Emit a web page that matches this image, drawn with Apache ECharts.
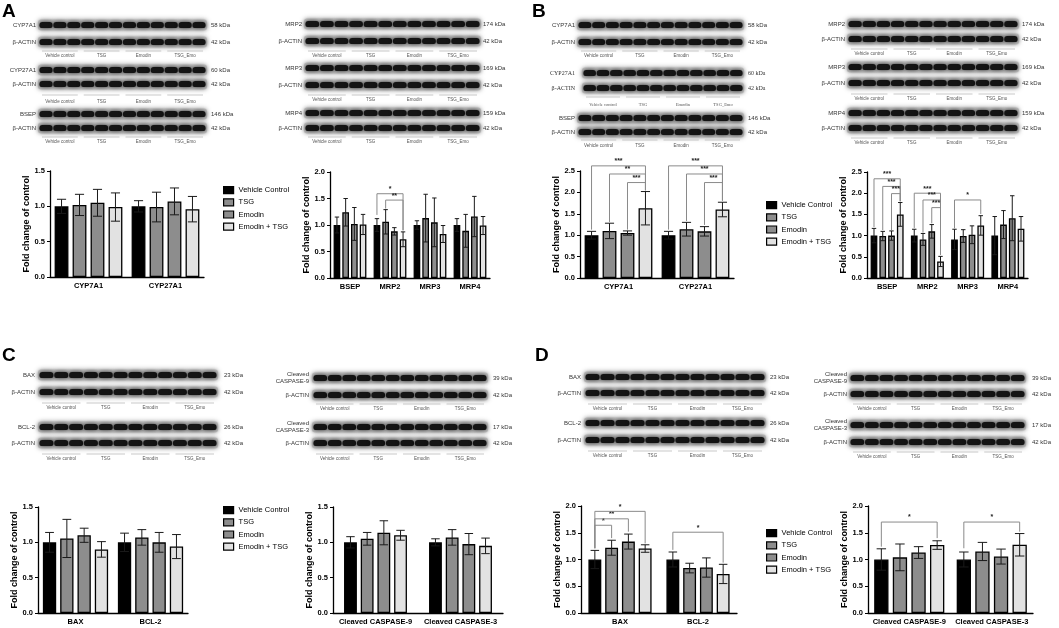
<!DOCTYPE html>
<html><head><meta charset="utf-8">
<script src="https://cdn.jsdelivr.net/npm/echarts@6/dist/echarts.min.js"></script>
<style>html,body{margin:0;padding:0;background:#fff}#c{width:1059px;height:628px}</style>
</head><body><div id="c"></div><script>
// ---------- DATA ----------
const groups = ['Vehicle Control', 'TSG', 'Emodin', 'Emodin + TSG'];
const laneGroups = ['Vehicle control', 'TSG', 'Emodin', 'TSG_Emo'];

// Panel A
const catsA1 = ['CYP7A1', 'CYP27A1'];
const meanA1 = [[1.00, 1.00], [1.02, 0.99], [1.05, 1.07], [0.99, 0.96]];
const errA1  = [[0.10, 0.08], [0.15, 0.21], [0.19, 0.19], [0.20, 0.18]];
const sigA1 = [];
const sigTxtA1 = [];

const catsA2 = ['BSEP', 'MRP2', 'MRP3', 'MRP4'];
const meanA2 = [[1.00, 1.00, 1.00, 1.00], [1.24, 1.06, 1.13, 0.89], [1.02, 0.88, 1.05, 1.16], [1.01, 0.73, 0.83, 0.99]];
const errA2  = [[0.15, 0.12, 0.08, 0.12], [0.26, 0.23, 0.45, 0.31], [0.31, 0.07, 0.46, 0.38], [0.19, 0.14, 0.16, 0.17]];
// [category, fromBar, toBar, lineY, fromDropY, toDropY]
const sigA2 = [[1, 0, 3, 1.59, 1.19, 0.90], [1, 1, 3, 1.47, 1.31, 0.90]];
const sigTxtA2 = ['*', '**'];

// Panel B
const catsB1 = ['CYP7A1', 'CYP27A1'];
const meanB1 = [[1.00, 1.00], [1.10, 1.14], [1.05, 1.09], [1.63, 1.60]];
const errB1  = [[0.09, 0.09], [0.18, 0.16], [0.05, 0.11], [0.39, 0.17]];
const sigB1 = [[0, 0, 3, 2.62, 1.13, 2.05], [0, 1, 3, 2.43, 1.31, 2.05], [0, 2, 3, 2.23, 1.13, 2.05],
               [1, 0, 3, 2.62, 1.13, 1.81], [1, 1, 3, 2.43, 1.33, 1.81], [1, 2, 3, 2.23, 1.24, 1.81]];
const sigTxtB1 = ['***', '**', '***', '***', '***', '***'];

const catsB2 = ['BSEP', 'MRP2', 'MRP3', 'MRP4'];
const meanB2 = [[1.00, 1.00, 0.91, 1.00], [0.99, 0.91, 0.99, 1.26], [1.00, 1.10, 1.02, 1.41], [1.50, 0.39, 1.24, 1.16]];
const errB2  = [[0.17, 0.15, 0.24, 0.45], [0.11, 0.14, 0.15, 0.33], [0.11, 0.16, 0.21, 0.53], [0.28, 0.12, 0.23, 0.29]];
const sigB2 = [[0, 0, 3, 2.34, 1.20, 1.81], [0, 1, 3, 2.16, 1.13, 1.81], [0, 2, 3, 1.99, 1.13, 1.81],
               [1, 0, 3, 2.00, 1.18, 0.55], [1, 1, 3, 1.84, 1.07, 0.55], [1, 2, 3, 1.66, 1.29, 0.55],
               [2, 0, 3, 1.84, 1.17, 1.51]];
const sigTxtB2 = ['***', '***', '***', '***', '***', '***', '*'];

// Panel C
const catsC1 = ['BAX', 'BCL-2'];
const meanC1 = [[1.00, 1.00], [1.055, 1.07], [1.10, 1.00], [0.90, 0.94]];
const errC1  = [[0.14, 0.13], [0.27, 0.11], [0.10, 0.14], [0.11, 0.17]];
const sigC1 = [];
const sigTxtC1 = [];

const catsC2 = ['Cleaved CASPASE-9', 'Cleaved CASPASE-3'];
const meanC2 = [[1.00, 1.00], [1.05, 1.07], [1.135, 0.975], [1.10, 0.95]];
const errC2  = [[0.08, 0.05], [0.09, 0.11], [0.17, 0.15], [0.07, 0.11]];
const sigC2 = [];
const sigTxtC2 = [];

// Panel D
const catsD1 = ['BAX', 'BCL-2'];
const meanD1 = [[1.00, 1.00], [1.22, 0.84], [1.335, 0.85], [1.205, 0.73]];
const errD1  = [[0.17, 0.14], [0.14, 0.09], [0.14, 0.18], [0.07, 0.18]];
const sigD1 = [[0, 0, 1, 1.64, 1.21, 1.40], [0, 0, 2, 1.76, 1.21, 1.52], [0, 0, 3, 1.90, 1.21, 1.30],
               [1, 0, 3, 1.51, 1.18, 0.94]];
const sigTxtD1 = ['*', '**', '*', '*'];

const catsD2 = ['Cleaved CASPASE-9', 'Cleaved CASPASE-3'];
const meanD2 = [[1.00, 1.00], [1.04, 1.15], [1.13, 1.055], [1.27, 1.275]];
const errD2  = [[0.20, 0.14], [0.25, 0.17], [0.11, 0.14], [0.08, 0.21]];
const sigD2 = [[0, 0, 3, 1.70, 1.24, 1.40], [1, 0, 3, 1.70, 1.21, 1.52]];
const sigTxtD2 = ['*', '*'];

// ---------- LAYOUT / STYLE ----------
const barColors = ['#000000', '#8d8d8d', '#8d8d8d', '#e2e2e2'];
const BAR_GAP = 0.3;
const charts = [
  {cats: catsA1, mean: meanA1, err: errA1, sig: sigA1, txt: sigTxtA1, max: 1.5, cg: 0.12, grid: {left: 50, top: 171, width: 154, height: 106}},
  {cats: catsA2, mean: meanA2, err: errA2, sig: sigA2, txt: sigTxtA2, max: 2.0, cg: 0.18, grid: {left: 330, top: 172, width: 160, height: 106}},
  {cats: catsB1, mean: meanB1, err: errB1, sig: sigB1, txt: sigTxtB1, max: 2.5, cg: 0.12, grid: {left: 580, top: 171, width: 154, height: 107}},
  {cats: catsB2, mean: meanB2, err: errB2, sig: sigB2, txt: sigTxtB2, max: 2.5, cg: 0.18, grid: {left: 867, top: 172, width: 161, height: 106}},
  {cats: catsC1, mean: meanC1, err: errC1, sig: sigC1, txt: sigTxtC1, max: 1.5, cg: 0.13, grid: {left: 38, top: 507, width: 150, height: 106}},
  {cats: catsC2, mean: meanC2, err: errC2, sig: sigC2, txt: sigTxtC2, max: 1.5, cg: 0.26, grid: {left: 333, top: 507, width: 170, height: 106}},
  {cats: catsD1, mean: meanD1, err: errD1, sig: sigD1, txt: sigTxtD1, max: 2.0, cg: 0.19, grid: {left: 581, top: 506, width: 156, height: 107}},
  {cats: catsD2, mean: meanD2, err: errD2, sig: sigD2, txt: sigTxtD2, max: 2.0, cg: 0.15, grid: {left: 868, top: 506, width: 165, height: 107}}
];

function barX(api, cat, s, cg) {
  const band = api.size([1, 0])[0];
  const usable = band * (1 - cg);
  const w = usable / (4 + 3 * BAR_GAP);
  const c = api.coord([cat, 0])[0];
  return {x: c - usable / 2 + w / 2 + s * w * (1 + BAR_GAP), w: w};
}

const series = [];
charts.forEach((ch, k) => {
  for (let s = 0; s < 4; s++) {
    series.push({
      type: 'bar', name: groups[s], xAxisIndex: k, yAxisIndex: k,
      data: ch.mean[s], barCategoryGap: (ch.cg * 100) + '%', barGap: (BAR_GAP * 100) + '%',
      itemStyle: {color: barColors[s], borderColor: '#000', borderWidth: 1.3},
      z: 2
    });
  }
  const eData = [];
  for (let s = 0; s < 4; s++) for (let c = 0; c < ch.cats.length; c++) eData.push([c, s, ch.mean[s][c], ch.err[s][c]]);
  series.push({
    type: 'custom', xAxisIndex: k, yAxisIndex: k, data: eData, z: 5, silent: true,
    renderItem: function (params, api) {
      const cat = api.value(0), s = api.value(1), m = api.value(2), e = api.value(3);
      const b = barX(api, cat, s, ch.cg);
      const yt = api.coord([cat, m + e])[1], yb = api.coord([cat, m - e])[1];
      const cw = b.w * 0.33;
      const st = {stroke: '#1a1a1a', lineWidth: 1};
      return {type: 'group', children: [
        {type: 'line', shape: {x1: b.x, y1: yt, x2: b.x, y2: yb}, style: st},
        {type: 'line', shape: {x1: b.x - cw, y1: yt, x2: b.x + cw, y2: yt}, style: st},
        {type: 'line', shape: {x1: b.x - cw, y1: yb, x2: b.x + cw, y2: yb}, style: st}
      ]};
    }
  });
  if (ch.sig.length) {
    series.push({
      type: 'custom', xAxisIndex: k, yAxisIndex: k, data: ch.sig, z: 6, silent: true, clip: false,
      renderItem: function (params, api) {
        const cat = api.value(0), f = api.value(1), t = api.value(2);
        const yl = api.coord([cat, api.value(3)])[1];
        const yf = api.coord([cat, api.value(4)])[1];
        const yto = api.coord([cat, api.value(5)])[1];
        const xf = barX(api, cat, f, ch.cg).x, xt = barX(api, cat, t, ch.cg).x;
        const st = {stroke: '#8a8a8a', lineWidth: 1};
        return {type: 'group', children: [
          {type: 'polyline', shape: {points: [[xf, yf], [xf, yl], [xt, yl], [xt, yto]]}, style: Object.assign({fill: null}, st)},
          {type: 'text', x: (xf + xt) / 2, y: yl - 1, style: {text: ch.txt[params.dataIndex], fill: '#222', font: 'bold 7px Arial', align: 'center', textAlign: 'center', verticalAlign: 'bottom', textVerticalAlign: 'bottom'}}
        ]};
      }
    });
  }
});

// ---------- BLOT ILLUSTRATIONS ----------
const blocks = [
  {x0: 39, x1: 206, lx: 36, kx: 211, rows: [['CYP7A1', 25, '58 kDa'], ['β-ACTIN', 42, '42 kDa']], gl: 51, gt: 56},
  {x0: 39, x1: 206, lx: 36, kx: 211, rows: [['CYP27A1', 70, '60 kDa'], ['β-ACTIN', 84, '42 kDa']], gl: 95, gt: 102},
  {x0: 39, x1: 206, lx: 36, kx: 211, rows: [['BSEP', 114, '146 kDa'], ['β-ACTIN', 128, '42 kDa']], gl: 137, gt: 142},
  {x0: 305, x1: 480, lx: 302, kx: 483, rows: [['MRP2', 24, '174 kDa'], ['β-ACTIN', 41, '42 kDa']], gl: 51, gt: 56},
  {x0: 305, x1: 480, lx: 302, kx: 483, rows: [['MRP3', 68, '169 kDa'], ['β-ACTIN', 85, '42 kDa']], gl: 95, gt: 100},
  {x0: 305, x1: 480, lx: 302, kx: 483, rows: [['MRP4', 113, '159 kDa'], ['β-ACTIN', 128, '42 kDa']], gl: 137, gt: 142},
  {x0: 578, x1: 743, lx: 575, kx: 748, rows: [['CYP7A1', 25, '58 kDa'], ['β-ACTIN', 42, '42 kDa']], gl: 51, gt: 56},
  {x0: 583, x1: 743, lx: 575, kx: 748, rows: [['CYP27A1', 73, '60 kDa'], ['β-ACTIN', 88, '42 kDa']], gl: 97, gt: 105, serif: true},
  {x0: 578, x1: 743, lx: 575, kx: 748, rows: [['BSEP', 118, '146 kDa'], ['β-ACTIN', 132, '42 kDa']], gl: 140, gt: 146},
  {x0: 848, x1: 1018, lx: 845, kx: 1022, rows: [['MRP2', 24, '174 kDa'], ['β-ACTIN', 39, '42 kDa']], gl: 49, gt: 54},
  {x0: 848, x1: 1018, lx: 845, kx: 1022, rows: [['MRP3', 67, '169 kDa'], ['β-ACTIN', 83, '42 kDa']], gl: 94, gt: 99},
  {x0: 848, x1: 1018, lx: 845, kx: 1022, rows: [['MRP4', 113, '159 kDa'], ['β-ACTIN', 128, '42 kDa']], gl: 138, gt: 143},
  {x0: 39, x1: 217, lx: 35, kx: 224, rows: [['BAX', 375, '23 kDa'], ['β-ACTIN', 392, '42 kDa']], gl: 403, gt: 408},
  {x0: 39, x1: 217, lx: 35, kx: 224, rows: [['BCL-2', 427, '26 kDa'], ['β-ACTIN', 443, '42 kDa']], gl: 454, gt: 459},
  {x0: 313, x1: 487, lx: 309, kx: 493, rows: [['Cleaved\nCASPASE-9', 378, '39 kDa'], ['β-ACTIN', 395, '42 kDa']], gl: 404, gt: 409},
  {x0: 313, x1: 487, lx: 309, kx: 493, rows: [['Cleaved\nCASPASE-3', 427, '17 kDa'], ['β-ACTIN', 443, '42 kDa']], gl: 454, gt: 459},
  {x0: 585, x1: 765, lx: 581, kx: 770, rows: [['BAX', 377, '23 kDa'], ['β-ACTIN', 393, '42 kDa']], gl: 404, gt: 409},
  {x0: 585, x1: 765, lx: 581, kx: 770, rows: [['BCL-2', 423, '26 kDa'], ['β-ACTIN', 440, '42 kDa']], gl: 451, gt: 456},
  {x0: 850, x1: 1025, lx: 847, kx: 1032, rows: [['Cleaved\nCASPASE-9', 378, '39 kDa'], ['β-ACTIN', 394, '42 kDa']], gl: 404, gt: 409},
  {x0: 850, x1: 1025, lx: 847, kx: 1032, rows: [['Cleaved\nCASPASE-3', 425, '17 kDa'], ['β-ACTIN', 442, '42 kDa']], gl: 452, gt: 457}
];
const letters = [['A', 2, 2], ['B', 532, 2], ['C', 2, 346], ['D', 535, 346]];

const gfx = [];
function txt(t, x, y, font, fill, align, valign, lh) {
  gfx.push({type: 'text', x: x, y: y, silent: true, style: {text: t, font: font, fill: fill,
    align: align, textAlign: align, verticalAlign: valign, textVerticalAlign: valign, lineHeight: lh || undefined}});
}
blocks.forEach(bk => {
  const fam = bk.serif ? '"Liberation Serif", serif' : '"Liberation Sans", Arial';
  bk.rows.forEach(r => {
    const yc = r[1], h = 6;
    gfx.push({type: 'rect', silent: true, shape: {x: bk.x0 - 1, y: yc - h / 2 - 2.5, width: bk.x1 - bk.x0 + 2, height: h + 5, r: 3},
      style: {fill: '#c4c4c4', shadowBlur: 5, shadowColor: 'rgba(0,0,0,0.35)'}});
    const lw = (bk.x1 - bk.x0) / 12;
    for (let i = 0; i < 12; i++) {
      gfx.push({type: 'rect', silent: true, shape: {x: bk.x0 + i * lw + lw * 0.03, y: yc - h / 2, width: lw * 0.94, height: h, r: [3, 3, 2, 2]},
        style: {fill: '#141414', shadowBlur: 4, shadowColor: 'rgba(0,0,0,0.85)'}});
    }
    txt(r[0], bk.lx, yc, '6px ' + fam, '#333', 'right', 'middle', 7);
    txt(r[2], bk.kx, yc, '6px ' + fam, '#333', 'left', 'middle');
  });
  const gw = (bk.x1 - bk.x0) / 4;
  for (let g = 0; g < 4; g++) {
    const a = bk.x0 + g * gw + 3, b = bk.x0 + (g + 1) * gw - 3;
    gfx.push({type: 'line', silent: true, shape: {x1: a, y1: bk.gl, x2: b, y2: bk.gl}, style: {stroke: '#bbbbbb', lineWidth: 0.8}});
    txt(laneGroups[g], (a + b) / 2, bk.gt, '4.5px ' + fam, '#555', 'center', 'middle');
  }
});
letters.forEach(l => txt(l[0], l[1], l[2], 'bold 19px Arial', '#000', 'left', 'top'));

// ---------- OPTION ----------
const legendPos = [[218, 181], [761, 196], [218, 501], [761, 524]];
const option = {
  animation: false,
  backgroundColor: '#ffffff',
  graphic: {elements: gfx},
  grid: charts.map(c => Object.assign({containLabel: false}, c.grid)),
  xAxis: charts.map((c, i) => ({
    type: 'category', gridIndex: i, data: c.cats,
    axisLine: {lineStyle: {color: '#000', width: 1.3}},
    axisTick: {show: false},
    axisLabel: {interval: 0, color: '#000', fontWeight: 'bold', fontSize: 7.5, fontFamily: 'Arial', margin: 5}
  })),
  yAxis: charts.map((c, i) => ({
    type: 'value', gridIndex: i, min: 0, max: c.max, interval: 0.5,
    name: 'Fold change of control', nameLocation: 'middle', nameGap: 18,
    nameTextStyle: {fontWeight: 'bold', fontSize: 9, color: '#000', fontFamily: 'Arial'},
    axisLine: {show: true, lineStyle: {color: '#000', width: 1.3}},
    axisTick: {show: true, length: 3, lineStyle: {color: '#000', width: 1}},
    splitLine: {show: false},
    axisLabel: {color: '#000', fontWeight: 'bold', fontSize: 7.5, fontFamily: 'Arial', margin: 5, formatter: v => v.toFixed(1)}
  })),
  legend: legendPos.map(p => ({
    left: p[0], top: p[1], orient: 'vertical', data: groups, icon: 'rect',
    itemWidth: 10, itemHeight: 7, itemGap: 4, itemStyle: {borderColor: '#000', borderWidth: 1.2},
    textStyle: {fontSize: 7.5, color: '#000', fontFamily: 'Arial'}, selectedMode: false
  })),
  series: series
};
const chart = echarts.init(document.getElementById('c'), null, {renderer: 'canvas'});
chart.setOption(option);
</script></body></html>
